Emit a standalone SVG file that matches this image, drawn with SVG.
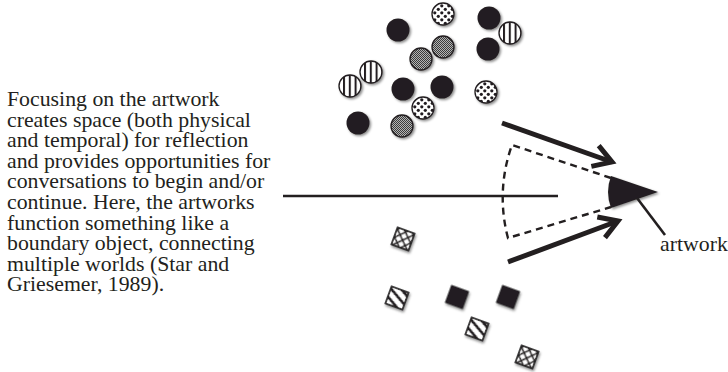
<svg xmlns="http://www.w3.org/2000/svg" width="728" height="372" viewBox="0 0 728 372">
  <style>
    .txt { font-family: "Liberation Serif", "Times New Roman", serif; font-size: 21.8px; fill: #231f20; }
    .solid { fill: #231f20; filter: url(#shadow); }
    .dots { fill: url(#pDots); stroke: #231f20; stroke-width: 1.3; filter: url(#shadow); }
    .check { fill: url(#pCheck); stroke: #231f20; stroke-width: 1.3; filter: url(#shadow); }
    .vstripe { fill: url(#pVStripe); stroke: #231f20; stroke-width: 1.3; filter: url(#shadow); }
    .hatch { fill: url(#pHatch); stroke: #231f20; stroke-width: 1.7; filter: url(#shadow); }
    .diag { fill: url(#pDiag); stroke: #231f20; stroke-width: 1.7; filter: url(#shadow); }
    .thick { stroke: #231f20; stroke-width: 5; fill: none; marker-end: url(#chevron); }
    .thin { stroke: #231f20; stroke-width: 2.6; fill: none; }
    .dash { stroke: #231f20; stroke-width: 2.4; fill: none; stroke-dasharray: 7 5; }
  </style>
  <defs>
    <filter id="shadow" x="-40%" y="-40%" width="180%" height="180%">
      <feDropShadow dx="1.5" dy="1.5" stdDeviation="1.3" flood-color="#000" flood-opacity="0.45"/>
    </filter>
    <pattern id="pDots" width="7" height="7" patternUnits="userSpaceOnUse" x="-3" y="-3">
      <rect width="7" height="7" fill="#fff"/>
      <circle cx="1.8" cy="1.8" r="1.6" fill="#231f20"/>
      <circle cx="5.3" cy="5.3" r="1.6" fill="#231f20"/>
    </pattern>
    <pattern id="pCheck" width="2" height="2" patternUnits="userSpaceOnUse">
      <rect width="2" height="2" fill="#b4b4b4"/>
      <rect width="1" height="1" fill="#3a3a3a"/>
      <rect x="1" y="1" width="1" height="1" fill="#3a3a3a"/>
    </pattern>
    <pattern id="pVStripe" width="5.8" height="5.8" patternUnits="userSpaceOnUse" x="-1.2">
      <rect width="5.8" height="5.8" fill="#fff"/>
      <rect width="2" height="5.8" fill="#231f20"/>
    </pattern>
    <pattern id="pHatch" width="6" height="6" patternUnits="userSpaceOnUse" patternTransform="rotate(45)">
      <rect width="6" height="6" fill="#fff"/>
      <rect width="1.6" height="6" fill="#231f20"/>
      <rect width="6" height="1.6" fill="#231f20"/>
    </pattern>
    <pattern id="pDiag" width="7.5" height="7.5" patternUnits="userSpaceOnUse" patternTransform="rotate(-60)">
      <rect width="7.5" height="7.5" fill="#fff"/>
      <rect width="2.8" height="7.5" fill="#231f20"/>
    </pattern>
    <marker id="chevron" markerUnits="userSpaceOnUse" viewBox="-24 -14 30 28" markerWidth="30" markerHeight="28" refX="0" refY="0" orient="auto">
      <path d="M -18 -11 L 0 0 L -18 11" fill="none" stroke="#231f20" stroke-width="5" stroke-linejoin="miter"/>
    </marker>
  </defs>

  <!-- caption paragraph -->
  <g id="caption">
    <text class="txt" x="7" y="106">
      <tspan x="7" y="106">Focusing on the artwork</tspan>
      <tspan x="7" dy="20.6">creates space (both physical</tspan>
      <tspan x="7" dy="20.6">and temporal) for reflection</tspan>
      <tspan x="7" dy="20.6">and provides opportunities for</tspan>
      <tspan x="7" dy="20.6">conversations to begin and/or</tspan>
      <tspan x="7" dy="20.6">continue. Here, the artworks</tspan>
      <tspan x="7" dy="20.6">function something like a</tspan>
      <tspan x="7" dy="20.6">boundary object, connecting</tspan>
      <tspan x="7" dy="20.6">multiple worlds (Star and</tspan>
      <tspan x="7" dy="20.6">Griesemer, 1989).</tspan>
    </text>
  </g>

  <!-- circles -->
  <g id="c1" transform="translate(398,30)"><circle class="solid" r="11.5"/></g>
  <g id="c2" transform="translate(443,14)"><circle class="dots" r="11"/></g>
  <g id="c3" transform="translate(489,18)"><circle class="solid" r="11.5"/></g>
  <g id="c4" transform="translate(510,33)"><circle class="vstripe" r="11"/></g>
  <g id="c5" transform="translate(488,49)"><circle class="solid" r="11.5"/></g>
  <g id="c6" transform="translate(443,47)"><circle class="check" r="11"/></g>
  <g id="c7" transform="translate(421,59)"><circle class="check" r="11"/></g>
  <g id="c8" transform="translate(371,72)"><circle class="vstripe" r="11"/></g>
  <g id="c9" transform="translate(350,86)"><circle class="vstripe" r="11"/></g>
  <g id="c10" transform="translate(403,89)"><circle class="solid" r="11.5"/></g>
  <g id="c11" transform="translate(442,87)"><circle class="solid" r="11.5"/></g>
  <g id="c12" transform="translate(486,92)"><circle class="dots" r="11"/></g>
  <g id="c13" transform="translate(423,108)"><circle class="dots" r="11"/></g>
  <g id="c14" transform="translate(402,126)"><circle class="check" r="11"/></g>
  <g id="c15" transform="translate(358,123)"><circle class="solid" r="11.5"/></g>

  <!-- squares -->
  <g id="s1" transform="translate(403,239) rotate(20)"><rect class="hatch" x="-9" y="-9" width="18" height="18"/></g>
  <g id="s2" transform="translate(397,298) rotate(20)"><rect class="diag" x="-9" y="-9" width="18" height="18"/></g>
  <g id="s3" transform="translate(457,297) rotate(20)"><rect class="solid" x="-9.5" y="-9.5" width="19" height="19"/></g>
  <g id="s4" transform="translate(508,297) rotate(20)"><rect class="solid" x="-9.5" y="-9.5" width="19" height="19"/></g>
  <g id="s5" transform="translate(477,329) rotate(20)"><rect class="diag" x="-9" y="-9" width="18" height="18"/></g>
  <g id="s6" transform="translate(527,357) rotate(20)"><rect class="hatch" x="-9" y="-9" width="18" height="18"/></g>

  <!-- artwork -->
  <g id="artwork">
    <path d="M 611 176 L 658 192 L 611 208 Q 605 192 611 176 Z" fill="#231f20" filter="url(#shadow)"/>
    <text class="txt" x="660" y="251">artwork</text>
  </g>

  <!-- connectors -->
  <g id="connectors">
    <line class="thin" x1="283" y1="196" x2="558" y2="196"/>
    <path class="dash" d="M 611 178 L 512 145 A 155 155 0 0 0 508 238 L 611 207"/>
    <line class="thick" x1="502" y1="123" x2="612" y2="162"/>
    <line class="thick" x1="508" y1="262" x2="618" y2="221"/>
    <line class="thin" x1="637" y1="198" x2="665" y2="235"/>
  </g>
</svg>
